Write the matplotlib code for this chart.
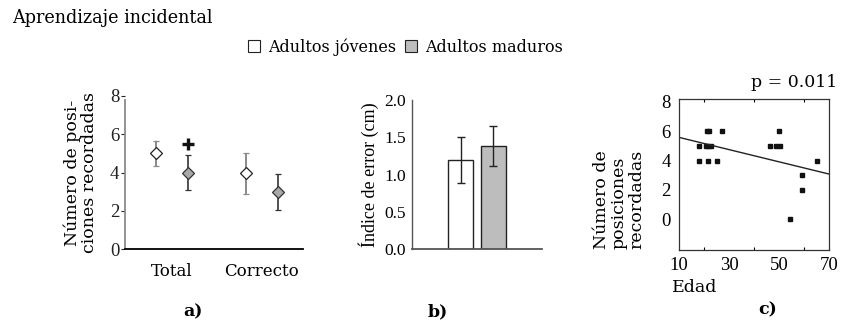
import matplotlib
matplotlib.use("Agg")
import matplotlib.pyplot as plt
from matplotlib.patches import Patch
from matplotlib.ticker import MultipleLocator, FixedLocator

# ---- data -------------------------------------------------------------
groups = ["Adultos jóvenes", "Adultos maduros"]
conditions = ["Total", "Correcto"]

# panel a: number of recalled positions (mean and error)
young_mean = [5.0, 3.95]
young_err = [0.65, 1.08]
mature_mean = [4.0, 2.97]
mature_err = [0.9, 0.95]
sig_total_mature = 5.5          # "+" marker above the mature Total point

# panel b: error index (cm)
error_index = [1.2, 1.38]
error_index_err = [0.31, 0.27]

# panel c: age vs number of recalled positions
ages = [17.9, 17.9, 21.0, 21.9, 20.6, 21.6, 22.6, 21.6, 25.0, 27.2,
        46.4, 48.8, 50.4, 50.1, 65.0, 59.2, 59.2, 54.4]
recalled = [5, 4, 6, 6, 5, 5, 5, 4, 4, 6,
            5, 5, 5, 6, 4, 3, 2, 0]
fit_intercept = 6.0
fit_slope = -0.0417
p_value = "p = 0.011"

# ---- style ------------------------------------------------------------
LABEL_FONT = ["DejaVu Serif"]
TICK_FONT = ["Liberation Serif"]
WHITE = "#ffffff"
GREY = "#bdbdbd"
GREY_MARK = "#a8a8a8"

W, H = 843, 321
fig = plt.figure(figsize=(W / 100, H / 100), dpi=100)


def frac(x0, y_top, x1, y_bot):
    return [x0 / W, 1 - y_bot / H, (x1 - x0) / W, (y_bot - y_top) / H]


# ---- panel a ----------------------------------------------------------
axa = fig.add_axes(frac(125, 96, 303, 249))
pos = [0, 1]
off = 0.178
for i in range(len(conditions)):
    axa.errorbar(pos[i] - off, young_mean[i], yerr=young_err[i], fmt="D",
                 ms=6, mfc=WHITE, mec="#222222", mew=0.9,
                 ecolor="#8a8a8a", elinewidth=1.4, capsize=2.5, capthick=1.4)
    axa.errorbar(pos[i] + off, mature_mean[i], yerr=mature_err[i], fmt="D",
                 ms=6.5, mfc=GREY_MARK, mec="#333333", mew=0.9,
                 ecolor="#333333", elinewidth=1.2, capsize=2.5, capthick=1.2)
axa.plot(pos[0] + off, sig_total_mature, marker="+", ms=8, mew=2.4,
         color="#111111")
axa.set_xlim(-0.522, 1.456)
axa.set_ylim(0, 8)
axa.set_yticks([0, 2, 4, 6, 8])
axa.set_xticks(pos)
axa.set_xticklabels(conditions, fontsize=12, family=LABEL_FONT)
axa.tick_params(axis="x", length=0, pad=10)
axa.tick_params(axis="y", length=3, width=0.8, pad=1, colors="#222222",
                labelsize=13.5)
for lab in axa.get_yticklabels():
    lab.set_family(TICK_FONT)
axa.spines[["top", "right"]].set_visible(False)
axa.spines["left"].set_color("#8a8a8a")
axa.spines["left"].set_linewidth(1.3)
axa.spines["left"].set_bounds(0, 7.8)
axa.spines["bottom"].set_linewidth(1.3)
axa.set_ylabel("Número de posi-\nciones recordadas", fontsize=12.5,
               family=LABEL_FONT, labelpad=9, linespacing=1.0)

# ---- panel b ----------------------------------------------------------
axb = fig.add_axes(frac(411.7, 100, 542, 249.3))
axb.bar([0, 1], error_index, width=0.772, yerr=error_index_err,
        color=[WHITE, GREY], edgecolor="#222222", linewidth=1.0,
        error_kw=dict(ecolor="#222222", elinewidth=1.0, capsize=3,
                      capthick=1.0))
axb.set_xlim(-1.515, 2.506)
axb.set_ylim(0, 2.0)
axb.yaxis.set_major_locator(MultipleLocator(0.5))
axb.yaxis.set_major_formatter(matplotlib.ticker.FormatStrFormatter("%.1f"))
axb.set_xticks([])
axb.tick_params(axis="y", length=0, pad=4, labelsize=12.5)
for lab in axb.get_yticklabels():
    lab.set_family(TICK_FONT)
axb.spines[["top", "right"]].set_visible(False)
axb.spines["left"].set_color("#555555")
axb.spines["bottom"].set_color("#555555")
axb.spines["left"].set_linewidth(1.0)
axb.spines["bottom"].set_linewidth(1.3)
axb.set_ylabel("Índice de error (cm)", fontsize=13, family=TICK_FONT,
               labelpad=4)

# ---- panel c ----------------------------------------------------------
axc = fig.add_axes(frac(679, 99, 829, 250))
axc.plot(ages, recalled, "s", ms=2.6, color="#111111")
xs = [10, 70]
axc.plot(xs, [fit_intercept + fit_slope * x for x in xs], color="#222222",
         lw=1.0)
axc.set_xlim(10, 70)
axc.set_ylim(-2.1, 8.2)
axc.set_xticks([10, 30, 50, 70])
axc.xaxis.set_minor_locator(FixedLocator([20, 30, 40, 50, 60]))
axc.set_yticks([0, 2, 4, 6, 8])
axc.tick_params(axis="both", which="major", length=0, labelsize=13.5)
axc.tick_params(axis="x", which="major", pad=5)
axc.tick_params(axis="y", which="major", pad=6)
axc.tick_params(axis="x", which="minor", direction="in", length=2.5,
                width=0.8, top=True, bottom=True)
for lab in axc.get_xticklabels() + axc.get_yticklabels():
    lab.set_family(TICK_FONT)
for s in axc.spines.values():
    s.set_linewidth(0.9)
    s.set_color("#333333")

fig.text(619 / W, 1 - 249 / H, "Número de\nposiciones\nrecordadas",
         rotation=90, ha="center", va="bottom", multialignment="left",
         fontsize=12.5, family=LABEL_FONT, linespacing=1.05)
fig.text(672 / W, 1 - 288 / H, "Edad", ha="left", va="center",
         fontsize=12.5, family=LABEL_FONT)
fig.text(837 / W, 1 - 83 / H, p_value, ha="right", va="center",
         fontsize=12.5, family=LABEL_FONT)

# ---- title, legend, panel letters ---------------------------------------
fig.text(12 / W, 1 - 18 / H, "Aprendizaje incidental", ha="left",
         va="center", fontsize=12.7, family=LABEL_FONT)

handles = [Patch(facecolor=WHITE, edgecolor="#222222", linewidth=0.8),
           Patch(facecolor=GREY, edgecolor="#222222", linewidth=0.8)]
fig.legend(handles, groups, loc="center", bbox_to_anchor=(0.481, 0.854),
           ncol=2, frameon=False, handlelength=0.75, handleheight=0.75,
           handletextpad=0.5, columnspacing=0.6,
           prop=dict(family=LABEL_FONT, size=11.5))

for x, y, s in [(193, 312, "a)"), (438, 312, "b)"), (768, 310, "c)")]:
    fig.text(x / W, 1 - y / H, s, ha="center", va="center", fontsize=12.5,
             fontweight="bold", family=LABEL_FONT)

fig.savefig("out.png", dpi=100)
